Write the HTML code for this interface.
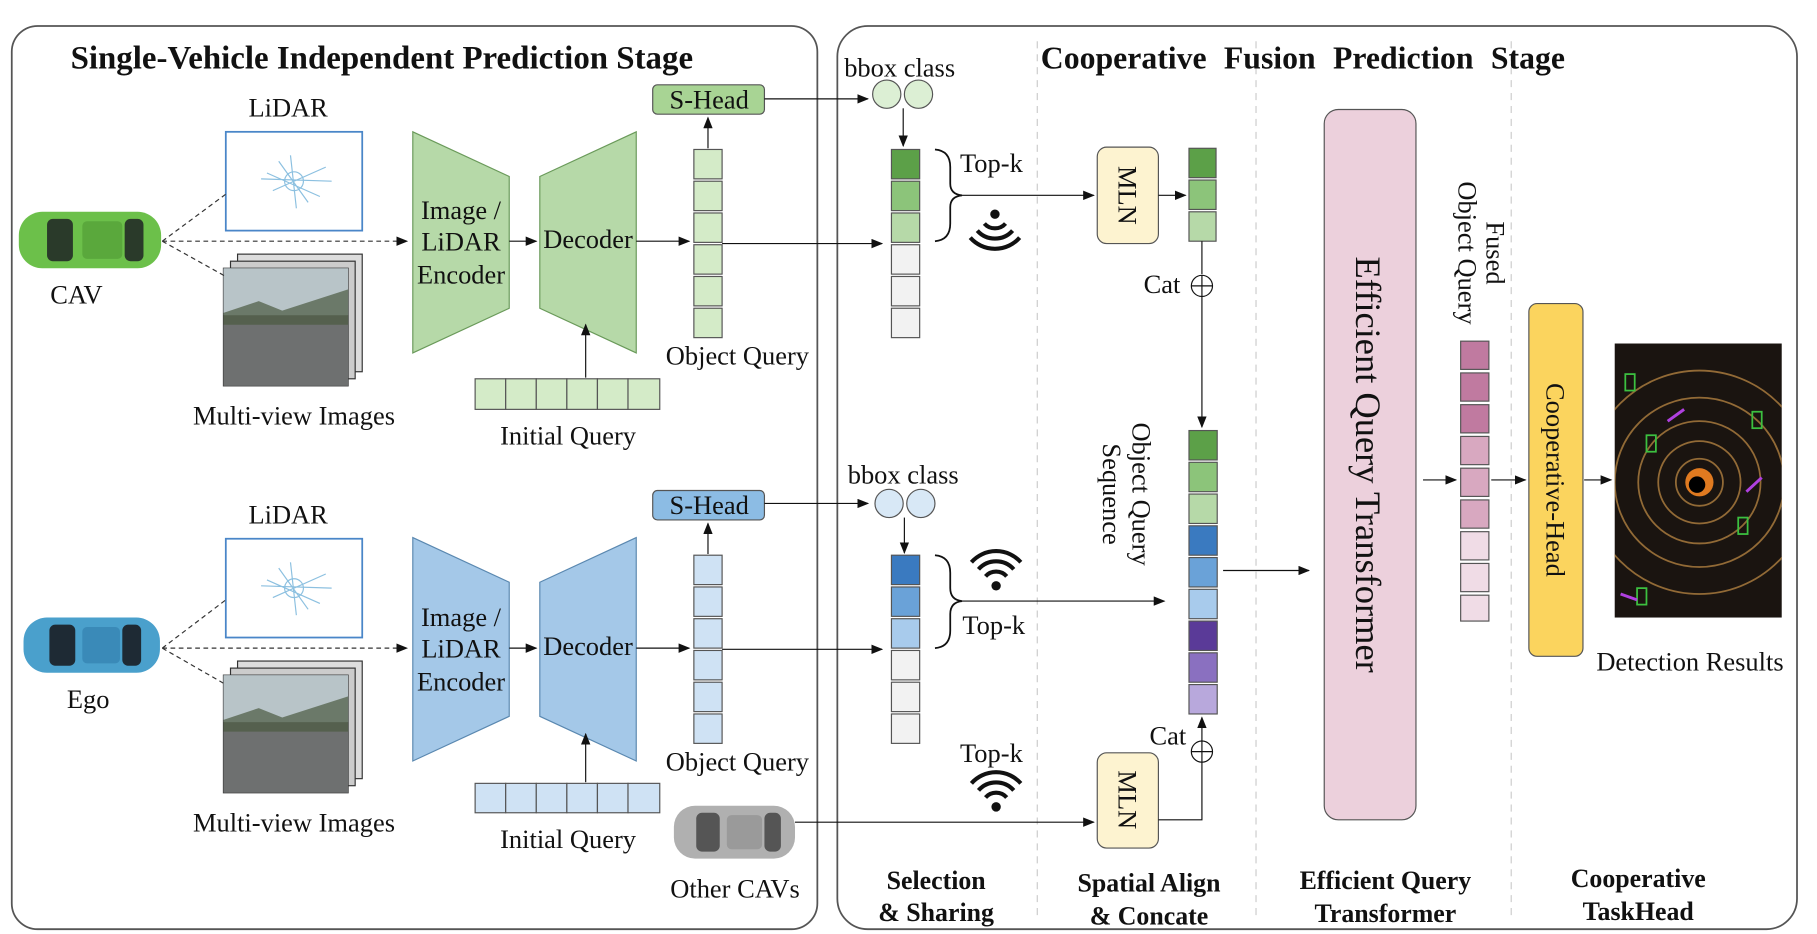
<!DOCTYPE html>
<html><head><meta charset="utf-8"><style>
html,body{margin:0;padding:0;background:#fff}
svg{display:block}
text{font-family:"Liberation Serif",serif;fill:#111}
</style></head><body>
<svg width="1817" height="934" viewBox="0 0 1545 794" xmlns="http://www.w3.org/2000/svg">
<defs>
<marker id="a" markerWidth="10" markerHeight="8" refX="9" refY="4" orient="auto" markerUnits="userSpaceOnUse"><path d="M0,0 L10,4 L0,8 z" fill="#111"/></marker>
<clipPath id="det"><rect x="1373" y="292" width="142" height="233"/></clipPath>
<g id="wifi" fill="none" stroke="#111" stroke-width="3.5">
<circle cx="0" cy="0" r="4" fill="#111" stroke="none"/>
<path d="M-9,-8 A12,12 0 0 1 9,-8"/><path d="M-15,-14 A20,20 0 0 1 15,-14"/><path d="M-21,-20 A28,28 0 0 1 21,-20"/>
</g>
<g id="imgs">
<rect x="12" y="0" width="106" height="100" fill="#ddd" stroke="#333"/>
<rect x="6" y="6" width="106" height="100" fill="#ccc" stroke="#333"/>
<rect x="0" y="12" width="106" height="100" fill="#8a9090" stroke="#333"/>
<rect x="0" y="12" width="106" height="40" fill="#b8c4c8"/>
<rect x="0" y="52" width="106" height="60" fill="#6e7070"/>
<path d="M0,50 L30,40 L50,48 L106,30 L106,60 L0,60z" fill="#4a5a40" opacity="0.7"/>
</g>
<g id="lidar">
<rect x="0" y="0" width="116" height="84" fill="#fff" stroke="#4a86c8" stroke-width="1.5"/>
<g stroke="#8cc0e0" stroke-width="1" fill="none"><path d="M30,40 L90,42 M45,25 L70,60 M55,20 L60,65 M40,50 L85,30 M35,35 L80,55"/><circle cx="58" cy="42" r="8"/></g>
</g>
</defs>

<rect x="10" y="22" width="685" height="768" rx="22" fill="none" stroke="#555" stroke-width="1.5"/>
<rect x="712" y="22" width="816" height="768" rx="26" fill="none" stroke="#555" stroke-width="1.5"/>
<g stroke="#ccc" stroke-dasharray="6,5"><line x1="882" y1="35" x2="882" y2="780"/><line x1="1068" y1="35" x2="1068" y2="780"/><line x1="1285" y1="35" x2="1285" y2="780"/></g>

<text x="60" y="58" font-size="28" font-weight="bold">Single-Vehicle Independent Prediction Stage</text>
<text x="885" y="58" font-size="27" font-weight="bold" word-spacing="8">Cooperative Fusion Prediction Stage</text>

<g font-size="22.5">
<!-- TOP ROW -->
<g>
<rect x="16" y="180" width="121" height="48" rx="20" fill="#6cc04a"/>
<rect x="40" y="186" width="22" height="36" rx="5" fill="#2a3a2a"/>
<rect x="70" y="188" width="34" height="32" rx="4" fill="#5aa83c"/>
<rect x="106" y="186" width="16" height="36" rx="5" fill="#2a3a2a"/>
</g>
<text x="65" y="258" text-anchor="middle">CAV</text>
<text x="245" y="99" text-anchor="middle">LiDAR</text>
<use href="#lidar" x="192" y="112"/>
<use href="#imgs" x="190" y="216"/>
<text x="250" y="361" text-anchor="middle">Multi-view Images</text>
<g stroke="#333" stroke-dasharray="4,3" fill="none"><line x1="138" y1="205" x2="192" y2="165"/><line x1="138" y1="205" x2="192" y2="235"/></g>
<line x1="138" y1="205" x2="346" y2="205" stroke="#333" stroke-dasharray="4,3" marker-end="url(#a)"/>
<path d="M351,112 L433,150 L433,262 L351,300z" fill="#b6d9a8" stroke="#6a9a5a"/>
<text text-anchor="middle"><tspan x="392" y="186">Image /</tspan><tspan x="392" y="213">LiDAR</tspan><tspan x="392" y="241">Encoder</tspan></text>
<line x1="433" y1="205" x2="456" y2="205" stroke="#111" marker-end="url(#a)"/>
<path d="M459,150 L541,112 L541,300 L459,262z" fill="#b6d9a8" stroke="#6a9a5a"/>
<text x="500" y="211" text-anchor="middle">Decoder</text>
<line x1="541" y1="205" x2="586" y2="205" stroke="#111" marker-end="url(#a)"/>
<g fill="#d4ebc8" stroke="#555"><rect x="404" y="322" width="26" height="26"/><rect x="430" y="322" width="26" height="26"/><rect x="456" y="322" width="26" height="26"/><rect x="482" y="322" width="26" height="26"/><rect x="508" y="322" width="26" height="26"/><rect x="534" y="322" width="27" height="26"/></g>
<line x1="498" y1="321" x2="498" y2="276" stroke="#111" marker-end="url(#a)"/>
<text x="483" y="378" text-anchor="middle">Initial Query</text>
<g fill="#d4ebc8" stroke="#555"><rect x="590" y="127" width="24" height="25"/><rect x="590" y="154" width="24" height="25"/><rect x="590" y="181" width="24" height="25"/><rect x="590" y="208" width="24" height="25"/><rect x="590" y="235" width="24" height="25"/><rect x="590" y="262" width="24" height="25"/></g>
<line x1="602" y1="126" x2="602" y2="100" stroke="#111" marker-end="url(#a)"/>
<rect x="555" y="72" width="95" height="25" rx="4" fill="#a8d494" stroke="#555"/>
<text x="603" y="92" text-anchor="middle">S-Head</text>
<text x="627" y="310" text-anchor="middle">Object Query</text>
<line x1="650" y1="84" x2="738" y2="84" stroke="#111" marker-end="url(#a)"/>
<line x1="614" y1="207" x2="750" y2="207" stroke="#111" marker-end="url(#a)"/>
<text x="765" y="65" text-anchor="middle">bbox class</text>
<circle cx="754" cy="80" r="12" fill="#dcefd4" stroke="#555"/><circle cx="781" cy="80" r="12" fill="#dcefd4" stroke="#555"/>
<line x1="768" y1="92" x2="768" y2="124" stroke="#111" marker-end="url(#a)"/>
<g stroke="#555"><rect x="758" y="127" width="24" height="25" fill="#5ca048"/><rect x="758" y="154" width="24" height="25" fill="#8cc47a"/><rect x="758" y="181" width="24" height="25" fill="#b6d9a8"/><rect x="758" y="208" width="24" height="25" fill="#f2f2f2"/><rect x="758" y="235" width="24" height="25" fill="#f2f2f2"/><rect x="758" y="262" width="24" height="25" fill="#f2f2f2"/></g>
<path d="M795,127 Q808,128 808,142 L808,156 Q808,165 818,166 Q808,167 808,176 L808,190 Q808,204 795,205" fill="none" stroke="#111" stroke-width="1.5"/>
<text x="843" y="146" text-anchor="middle">Top-k</text>
<use href="#wifi" transform="translate(846,182) rotate(180)"/>
<line x1="818" y1="166" x2="930" y2="166" stroke="#111" marker-end="url(#a)"/>
<rect x="933" y="125" width="52" height="82" rx="8" fill="#fdf3d0" stroke="#555"/>
<text transform="translate(951,166) rotate(90)" text-anchor="middle">MLN</text>
<line x1="985" y1="166" x2="1008" y2="166" stroke="#111" marker-end="url(#a)"/>
<g stroke="#555"><rect x="1011" y="126" width="23" height="25" fill="#5ca048"/><rect x="1011" y="153" width="23" height="25" fill="#8cc47a"/><rect x="1011" y="180" width="23" height="25" fill="#b6d9a8"/></g>
<line x1="1022" y1="205" x2="1022" y2="233" stroke="#111"/>
<circle cx="1022" cy="243" r="9" fill="#fff" stroke="#111"/><path d="M1013,243 H1031 M1022,234 V252" stroke="#111"/>
<text x="988" y="249" text-anchor="middle">Cat</text>
<line x1="1022" y1="252" x2="1022" y2="363" stroke="#111" marker-end="url(#a)"/>

<g stroke="#555"><rect x="1011" y="366" width="24" height="25" fill="#5ca048"/><rect x="1011" y="393" width="24" height="25" fill="#8cc47a"/><rect x="1011" y="420" width="24" height="25" fill="#b6d9a8"/><rect x="1011" y="447" width="24" height="25" fill="#3a7ac0"/><rect x="1011" y="474" width="24" height="25" fill="#6aa2d8"/><rect x="1011" y="501" width="24" height="25" fill="#a8cbec"/><rect x="1011" y="528" width="24" height="25" fill="#5a3a98"/><rect x="1011" y="555" width="24" height="25" fill="#8a70c0"/><rect x="1011" y="582" width="24" height="25" fill="#b8a8dc"/></g>
<text transform="translate(963,420) rotate(90)" text-anchor="middle"><tspan x="0" y="0">Object Query</tspan><tspan x="0" y="25">Sequence</tspan></text>
<line x1="1040" y1="485" x2="1113" y2="485" stroke="#111" marker-end="url(#a)"/>
<rect x="1126" y="93" width="78" height="604" rx="12" fill="#ecd0dc" stroke="#555"/>
<text transform="translate(1153,395) rotate(90)" font-size="31" text-anchor="middle">Efficient Query Transformer</text>
<line x1="1210" y1="408" x2="1238" y2="408" stroke="#111" marker-end="url(#a)"/>
<text transform="translate(1240,215) rotate(90)" text-anchor="middle"><tspan x="0" y="-24">Fused</tspan><tspan x="0" y="0">Object Query</tspan></text>
<g stroke="#555"><rect x="1242" y="290" width="24" height="24" fill="#c07aa0"/><rect x="1242" y="317" width="24" height="24" fill="#c07aa0"/><rect x="1242" y="344" width="24" height="24" fill="#c07aa0"/><rect x="1242" y="371" width="24" height="24" fill="#d8a8c0"/><rect x="1242" y="398" width="24" height="24" fill="#d8a8c0"/><rect x="1242" y="425" width="24" height="24" fill="#d8a8c0"/><rect x="1242" y="452" width="24" height="24" fill="#f0dce6"/><rect x="1242" y="479" width="24" height="24" fill="#f0dce6"/><rect x="1242" y="506" width="24" height="22" fill="#f0dce6"/></g>
<line x1="1268" y1="408" x2="1297" y2="408" stroke="#111" marker-end="url(#a)"/>
<rect x="1300" y="258" width="46" height="300" rx="7" fill="#fbd45e" stroke="#555"/>
<text transform="translate(1315,408) rotate(90)" text-anchor="middle">Cooperative-Head</text>
<line x1="1347" y1="408" x2="1370" y2="408" stroke="#111" marker-end="url(#a)"/>
<rect x="1373" y="292" width="142" height="233" fill="#1a1410"/>
<g clip-path="url(#det)">
<g fill="none" stroke="#b08040" stroke-width="1.5" opacity="0.8"><circle cx="1445" cy="410" r="20"/><circle cx="1445" cy="410" r="35"/><circle cx="1445" cy="410" r="52"/><circle cx="1445" cy="410" r="72"/><circle cx="1445" cy="410" r="95"/></g>
<circle cx="1445" cy="410" r="12" fill="#e07a20"/><circle cx="1443" cy="412" r="7" fill="#000"/>
<g fill="none" stroke="#3cc040" stroke-width="1.5"><rect x="1382" y="318" width="8" height="14"/><rect x="1400" y="370" width="8" height="14"/><rect x="1478" y="440" width="8" height="14"/><rect x="1392" y="500" width="8" height="14"/><rect x="1490" y="350" width="8" height="14"/></g>
<g stroke="#b040e0" stroke-width="2.5"><line x1="1418" y1="358" x2="1432" y2="348"/><line x1="1485" y1="418" x2="1498" y2="406"/><line x1="1378" y1="505" x2="1392" y2="510"/></g>
</g>
<text x="1437" y="570" text-anchor="middle">Detection Results</text>

<!-- BOTTOM ROW -->
<g>
<rect x="20" y="525" width="116" height="47" rx="20" fill="#4aa0cc"/>
<rect x="42" y="531" width="22" height="35" rx="5" fill="#1e2a34"/>
<rect x="70" y="533" width="32" height="31" rx="4" fill="#3a8ab8"/>
<rect x="104" y="531" width="16" height="35" rx="5" fill="#1e2a34"/>
</g>
<text x="75" y="602" text-anchor="middle">Ego</text>
<text x="245" y="445" text-anchor="middle">LiDAR</text>
<use href="#lidar" x="192" y="458"/>
<use href="#imgs" x="190" y="562"/>
<text x="250" y="707" text-anchor="middle">Multi-view Images</text>
<g stroke="#333" stroke-dasharray="4,3" fill="none"><line x1="138" y1="551" x2="192" y2="510"/><line x1="138" y1="551" x2="192" y2="582"/></g>
<line x1="138" y1="551" x2="346" y2="551" stroke="#333" stroke-dasharray="4,3" marker-end="url(#a)"/>
<path d="M351,457 L433,495 L433,609 L351,647z" fill="#a4c8e8" stroke="#5a88b0"/>
<text text-anchor="middle"><tspan x="392" y="532">Image /</tspan><tspan x="392" y="559">LiDAR</tspan><tspan x="392" y="587">Encoder</tspan></text>
<line x1="433" y1="551" x2="456" y2="551" stroke="#111" marker-end="url(#a)"/>
<path d="M459,495 L541,457 L541,647 L459,609z" fill="#a4c8e8" stroke="#5a88b0"/>
<text x="500" y="557" text-anchor="middle">Decoder</text>
<line x1="541" y1="551" x2="586" y2="551" stroke="#111" marker-end="url(#a)"/>
<g fill="#cfe2f4" stroke="#555"><rect x="404" y="666" width="26" height="25"/><rect x="430" y="666" width="26" height="25"/><rect x="456" y="666" width="26" height="25"/><rect x="482" y="666" width="26" height="25"/><rect x="508" y="666" width="26" height="25"/><rect x="534" y="666" width="27" height="25"/></g>
<line x1="498" y1="665" x2="498" y2="624" stroke="#111" marker-end="url(#a)"/>
<text x="483" y="721" text-anchor="middle">Initial Query</text>
<g fill="#cfe2f4" stroke="#555"><rect x="590" y="472" width="24" height="25"/><rect x="590" y="499" width="24" height="25"/><rect x="590" y="526" width="24" height="25"/><rect x="590" y="553" width="24" height="25"/><rect x="590" y="580" width="24" height="25"/><rect x="590" y="607" width="24" height="25"/></g>
<line x1="602" y1="471" x2="602" y2="445" stroke="#111" marker-end="url(#a)"/>
<rect x="555" y="417" width="95" height="25" rx="4" fill="#8cbce4" stroke="#555"/>
<text x="603" y="437" text-anchor="middle">S-Head</text>
<text x="627" y="655" text-anchor="middle">Object Query</text>
<line x1="650" y1="428" x2="738" y2="428" stroke="#111" marker-end="url(#a)"/>
<line x1="614" y1="552" x2="750" y2="552" stroke="#111" marker-end="url(#a)"/>
<text x="768" y="411" text-anchor="middle">bbox class</text>
<circle cx="756" cy="428" r="12" fill="#d8e8f6" stroke="#555"/><circle cx="783" cy="428" r="12" fill="#d8e8f6" stroke="#555"/>
<line x1="769" y1="440" x2="769" y2="470" stroke="#111" marker-end="url(#a)"/>
<g stroke="#555"><rect x="758" y="472" width="24" height="25" fill="#3a7ac0"/><rect x="758" y="499" width="24" height="25" fill="#6aa2d8"/><rect x="758" y="526" width="24" height="25" fill="#a8cbec"/><rect x="758" y="553" width="24" height="25" fill="#f2f2f2"/><rect x="758" y="580" width="24" height="25" fill="#f2f2f2"/><rect x="758" y="607" width="24" height="25" fill="#f2f2f2"/></g>
<path d="M795,472 Q808,473 808,487 L808,500 Q808,510 818,511 Q808,512 808,522 L808,536 Q808,550 795,551" fill="none" stroke="#111" stroke-width="1.5"/>
<text x="845" y="539" text-anchor="middle">Top-k</text>
<use href="#wifi" transform="translate(847,498)"/>
<line x1="818" y1="511" x2="990" y2="511" stroke="#111" marker-end="url(#a)"/>

<g>
<rect x="573" y="685" width="103" height="45" rx="18" fill="#b0b0b0"/>
<rect x="592" y="691" width="20" height="33" rx="5" fill="#555"/>
<rect x="618" y="693" width="30" height="29" rx="4" fill="#9a9a9a"/>
<rect x="650" y="691" width="14" height="33" rx="5" fill="#555"/>
</g>
<text x="625" y="763" text-anchor="middle">Other CAVs</text>
<text x="843" y="648" text-anchor="middle">Top-k</text>
<use href="#wifi" transform="translate(847,686)"/>
<line x1="676" y1="699" x2="930" y2="699" stroke="#111" marker-end="url(#a)"/>
<rect x="933" y="640" width="52" height="81" rx="8" fill="#fdf3d0" stroke="#555"/>
<text transform="translate(951,680) rotate(90)" text-anchor="middle">MLN</text>
<polyline points="985,697 1022,697 1022,648" fill="none" stroke="#111"/>
<circle cx="1022" cy="639" r="9" fill="#fff" stroke="#111"/><path d="M1013,639 H1031 M1022,630 V648" stroke="#111"/>
<text x="993" y="633" text-anchor="middle">Cat</text>
<line x1="1022" y1="630" x2="1022" y2="610" stroke="#111" marker-end="url(#a)"/>
</g>

<g font-size="22" font-weight="bold" text-anchor="middle">
<text x="796" y="756">Selection</text><text x="796" y="783">&amp; Sharing</text>
<text x="977" y="758">Spatial Align</text><text x="977" y="786">&amp; Concate</text>
<text x="1178" y="756">Efficient Query</text><text x="1178" y="784">Transformer</text>
<text x="1393" y="754">Cooperative</text><text x="1393" y="782">TaskHead</text>
</g>
</svg>
</body></html>
